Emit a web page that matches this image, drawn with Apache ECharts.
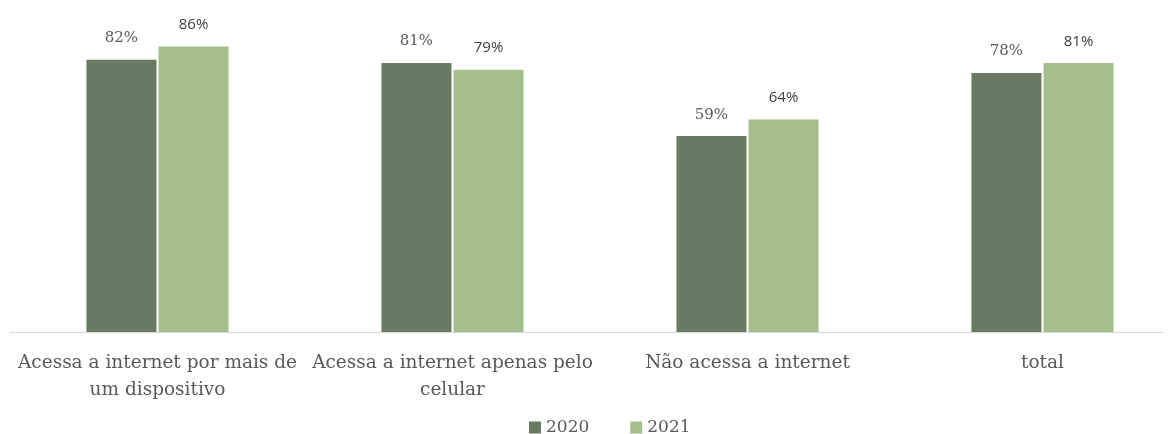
<!DOCTYPE html>
<html>
<head>
<meta charset="utf-8">
<script src="https://cdn.jsdelivr.net/npm/echarts@6/dist/echarts.min.js"></script>
<style>
  html, body { margin: 0; padding: 0; background: #fff; }
  #main { width: 1173px; height: 434px; }
</style>
</head>
<body>
<div id="main"></div>
<script>
// dados do gráfico
var categories = ['Acessa a internet por mais de\num dispositivo', 'Acessa a internet apenas pelo\ncelular', 'Não acessa a internet', 'total'];
var values2020 = [82, 81, 59, 78];
var values2021 = [86, 79, 64, 81];
var seriesNames = ['2020', '2021'];

var chartDom = document.getElementById('main');
var myChart = echarts.init(chartDom);
var serif = '"DejaVu Serif", "Liberation Serif", serif';
var sans = '"Open Sans", "Liberation Sans", sans-serif';

var option = {
    animation: false,
    grid: { left: 10, width: 1180, top: 0, height: 332, outerBoundsMode: 'none' },
    legend: {
        left: 524,
        top: 414,
        itemWidth: 12,
        itemHeight: 12,
        itemGap: 41,
        icon: 'rect',
        textStyle: { fontFamily: serif, fontSize: 17, color: '#595959' },
        data: seriesNames
    },
    // linha do eixo (termina antes da borda)
    graphic: [{
        type: 'line',
        shape: { x1: 10, y1: 332.5, x2: 1163, y2: 332.5 },
        style: { stroke: '#d9d9d9', lineWidth: 1 },
        z: 10
    }],
    xAxis: {
        type: 'category',
        data: categories,
        axisTick: { show: false },
        axisLine: { show: false },
        axisLabel: {
            interval: 0,
            margin: 18,
            fontFamily: serif,
            fontSize: 18.5,
            lineHeight: 27,
            color: '#595959'
        }
    },
    yAxis: {
        type: 'value',
        min: 0,
        max: 100,
        show: false
    },
    series: [
        {
            name: seriesNames[0],
            type: 'bar',
            data: values2020,
            barWidth: 70,
            barGap: '3%',
            itemStyle: { color: '#687a61' },
            label: {
                show: true,
                position: 'top',
                distance: 14,
                formatter: '{c}%',
                fontFamily: serif,
                fontSize: 15,
                color: '#595959'
            }
        },
        {
            name: seriesNames[1],
            type: 'bar',
            data: values2021,
            barWidth: 70,
            itemStyle: { color: '#a5bf8c' },
            label: {
                show: true,
                position: 'top',
                distance: 14,
                formatter: '{c}%',
                fontFamily: sans,
                fontSize: 15,
                color: '#404040'
            }
        }
    ]
};
option && myChart.setOption(option);
</script>
</body>
</html>
